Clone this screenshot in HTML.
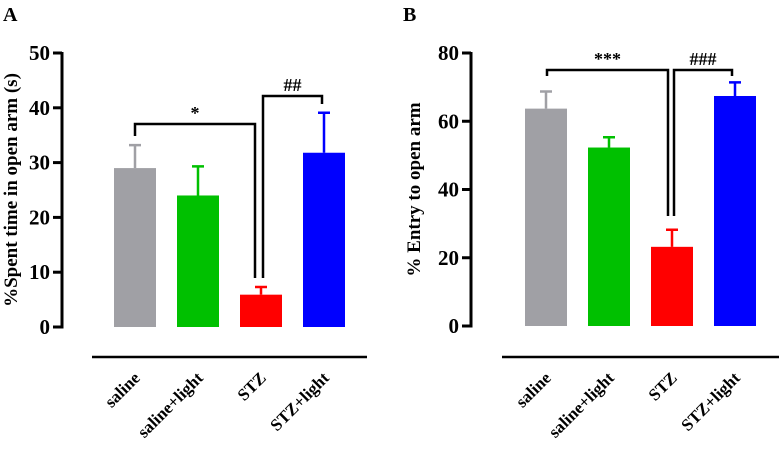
<!DOCTYPE html>
<html><head><meta charset="utf-8"><style>
body{margin:0;background:#fff;}
svg{display:block;}
svg text{font-family:"Liberation Serif","Times New Roman","DejaVu Serif",serif;font-weight:bold;}
</style></head><body>
<svg id="chart" width="779" height="455" viewBox="0 0 779 455">
<text x="3" y="21" font-size="20" font-family="Liberation Serif, serif">A</text>
<text x="403" y="21" font-size="20" font-family="Liberation Serif, serif">B</text>
<g id="pa"></g>
<g id="pb"></g>
</svg>
<script>
const categories = ["saline","saline+light","STZ","STZ+light"];
const colors = ["#a0a0a5","#00c000","#ff0000","#0000ff"];
const valuesA = [29.0, 24.0, 5.9, 31.8];
const errorsA = [4.2, 5.3, 1.4, 7.3];
const ticksA = [0,10,20,30,40,50];
const valuesB = [63.7, 52.3, 23.2, 67.4];
const errorsB = [5.0, 3.0, 5.0, 4.0];
const ticksB = [0,20,40,60,80];
const NS = "http://www.w3.org/2000/svg";
const FONT = "Liberation Serif, serif";
function mk(parent, tag, attrs){
  const e = document.createElementNS(NS, tag);
  for (const k in attrs) e.setAttribute(k, attrs[k]);
  if (tag === 'text') e.setAttribute('font-family', FONT);
  parent.appendChild(e); return e;
}
function drawPanel(g, p, values, errors, ticks, title, sigs){
  const ymax = ticks[ticks.length-1];
  const y = v => p.y0 - (v/ymax)*(p.y0 - p.yTop);
  const xC = i => p.b0 + 21 + i*p.step;
  const ax = mk(g,'line',{x1:p.ax,y1:y(ymax)-1,x2:p.ax,y2:p.y0+1.5,stroke:'#000','stroke-width':3});
  
  
  ticks.forEach(t=>{
    const tl = mk(g,'line',{x1:p.ax-9,y1:y(t),x2:p.ax,y2:y(t),stroke:'#000','stroke-width':3});
    
    
    const tx = mk(g,'text',{x:p.ax-12,y:y(t)+7,'font-size':21,'text-anchor':'end'});
    tx.textContent = t;
    
    
  });
  const yt = mk(g,'text',{x:0,y:0,'font-size':p.titleFs,'text-anchor':'middle',transform:`translate(${p.titleX},${(p.y0+p.yTop)/2}) rotate(-90)`});
  yt.textContent = title;
  
  
  values.forEach((v,i)=>{
    const cx = xC(i);
    const r = mk(g,'rect',{x:cx-21,y:y(v),width:42,height:p.y0-y(v),fill:colors[i]});
    
    
    const eT = y(v+errors[i]);
    const el = mk(g,'path',{d:`M${cx},${y(v)} V${eT} M${cx-6},${eT} H${cx+6}`,stroke:colors[i],'stroke-width':2.5,fill:'none'});
    
    
    const lb = mk(g,'text',{x:0,y:0,'font-size':17,'text-anchor':'end',transform:`translate(${cx+6},${p.labY}) rotate(-45)`});
    lb.textContent = categories[i];
    
    
  });
  const bl = mk(g,'line',{x1:p.blX1,y1:357,x2:p.blX2,y2:357,stroke:'#000','stroke-width':2.5});
  
  
  sigs.forEach((s,k)=>{
    const br = mk(g,'path',{d:`M${s.x1},${s.y1} V${s.top} H${s.x2} V${s.y2}`,stroke:'#000','stroke-width':2.5,fill:'none'});
    
    
    const st = mk(g,'text',{x:(s.x1+s.x2)/2,y:s.top-5,'font-size':s.fs,'text-anchor':'middle'});
    st.setAttribute('font-weight','normal');
    st.textContent = s.label;
    
    
  });
}
drawPanel(document.getElementById('pa'),
  {ax:62,y0:327,yTop:53,b0:114,step:63,titleX:17,titleFs:19,labY:379,blX1:92,blX2:367},
  valuesA, errorsA, ticksA, "%Spent time in open arm (s)",
  [{x1:135,y1:136,x2:255,y2:278,top:124,label:"*",fs:18},
   {x1:263,y1:278,x2:322,y2:104,top:96,label:"##",fs:18}]);
drawPanel(document.getElementById('pb'),
  {ax:471,y0:326,yTop:53,b0:525,step:63,titleX:420,titleFs:19,labY:379,blX1:502,blX2:779},
  valuesB, errorsB, ticksB, "% Entry to open arm",
  [{x1:547,y1:76,x2:668,y2:216,top:70,label:"***",fs:18},
   {x1:674,y1:216,x2:732,y2:76,top:70,label:"###",fs:18}]);
</script>
</body></html>
